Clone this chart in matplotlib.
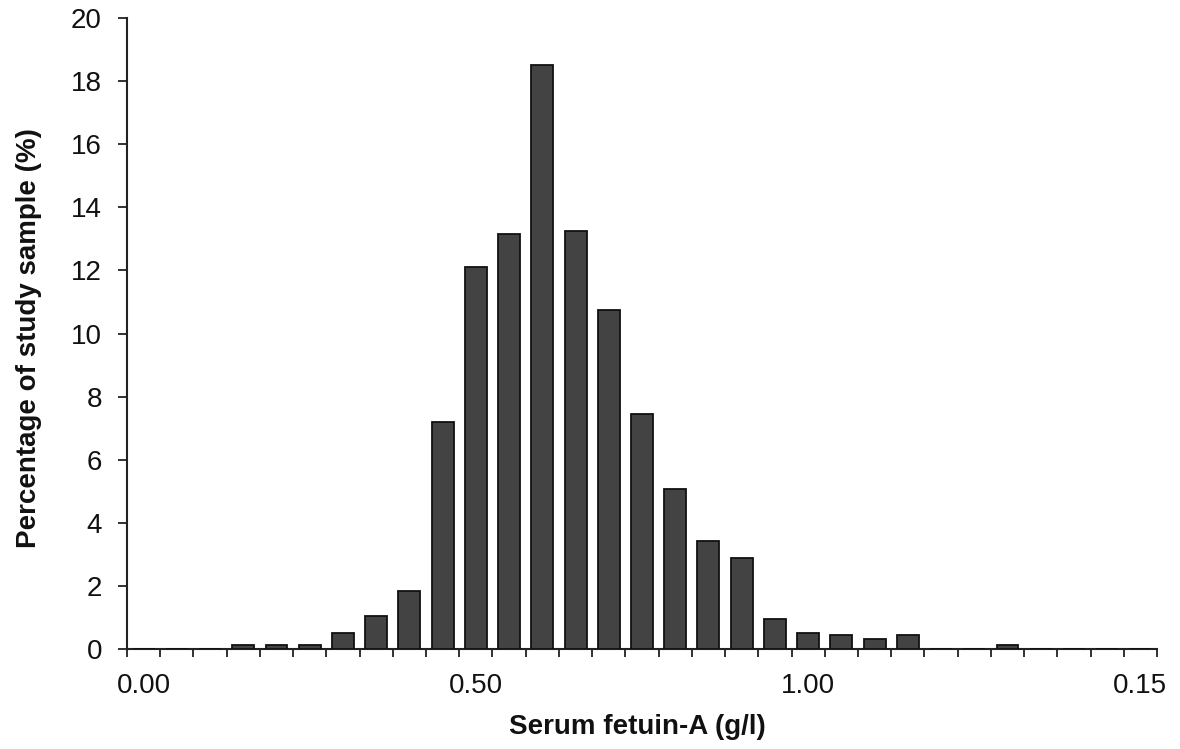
import numpy as np
import matplotlib
matplotlib.use("Agg")
import matplotlib.pyplot as plt

plt.rcParams['font.family'] = ['Liberation Sans', 'DejaVu Sans']

# Fetuin-A bins (g/l), 0.05 wide, and share of the study sample in each bin (%)
bins = [f"{0.05 * i:.2f}" for i in range(31)]
percent = [0, 0, 0, 0.13, 0.13, 0.13, 0.5, 1.05, 1.85, 7.2,
           12.1, 13.15, 18.5, 13.25, 10.75, 7.45, 5.08, 3.42, 2.88, 0.95,
           0.5, 0.44, 0.32, 0.44, 0, 0, 0.13, 0, 0, 0, 0]
tick_positions = [0, 10, 20, 30]
tick_labels = ["0.00", "0.50", "1.00", "0.15"]
y_ticks = list(range(0, 21, 2))

fig = plt.figure(figsize=(11.8, 7.49), dpi=100)
ax = fig.add_axes([127 / 1180, 1 - 649 / 749, 1030 / 1180, 631 / 749])

x = np.arange(len(bins))
ax.bar(x, percent, width=0.66, color="#434343", edgecolor="#111111",
       linewidth=1.3, zorder=3)

ax.set_xlim(-0.5, len(bins) - 0.5)
ax.set_ylim(0, 20)

# category boundary ticks, with the labels sitting on bin centres
ax.set_xticks(np.arange(-0.5, len(bins), 1), minor=True)
ax.set_xticks(tick_positions)
ax.set_xticklabels(tick_labels)
ax.tick_params(axis="x", which="minor", direction="out", length=6, width=1.3,
               color="#222222")
ax.tick_params(axis="x", which="major", length=0, pad=17, labelsize=20,
               labelcolor="#111111")

ax.set_yticks(y_ticks)
ax.tick_params(axis="y", direction="out", length=6.5, width=1.3, pad=11.5,
               labelsize=20, color="#222222", labelcolor="#111111")

for side in ("top", "right"):
    ax.spines[side].set_visible(False)
for side in ("left", "bottom"):
    ax.spines[side].set_linewidth(1.5)
    ax.spines[side].set_color("#222222")

ax.set_xlabel("Serum fetuin-A (g/l)", fontsize=20, fontweight="bold",
              color="#111111", va="center")
ax.xaxis.set_label_coords(0.4956, -0.1236)
ax.set_ylabel("Percentage of study sample (%)", fontsize=20, fontweight="bold",
              color="#111111", va="center")
ax.yaxis.set_label_coords(-0.0951, 0.4929)

fig.savefig("out.png", dpi=100)
